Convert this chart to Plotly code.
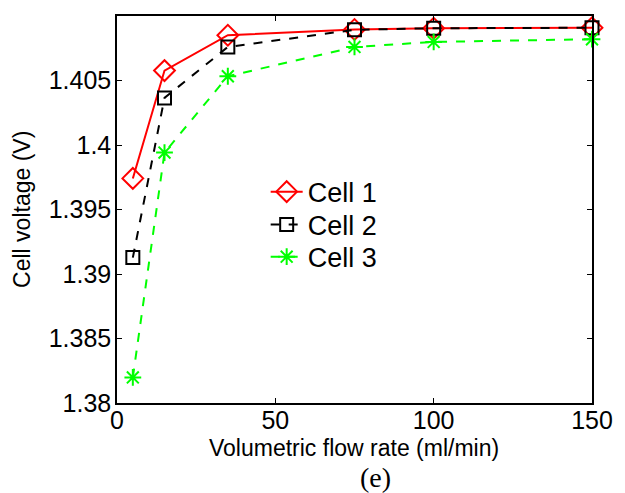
import plotly.graph_objects as go

flow = [5, 15, 35, 75, 100, 150]
cell1 = [1.39741, 1.40577, 1.40851, 1.40895, 1.40905, 1.40909]
cell2 = [1.39127, 1.40365, 1.40760, 1.40893, 1.40905, 1.40909]
cell3 = [1.38198, 1.39941, 1.40533, 1.40760, 1.40799, 1.40820]
names = ["Cell 1", "Cell 2", "Cell 3"]
xticks = [0, 50, 100, 150]
yticks = [1.38, 1.385, 1.39, 1.395, 1.4, 1.405]
yticklabels = ["1.38", "1.385", "1.39", "1.395", "1.4", "1.405"]

fig = go.Figure()
fig.add_trace(go.Scatter(x=flow, y=cell1, name=names[0], mode="lines+markers", legend="legend",
                         line=dict(color="#ff0000", width=2),
                         marker=dict(symbol="diamond-open", size=16, color="#ff0000",
                                     line=dict(width=2, color="#ff0000")),
                         cliponaxis=False))
fig.add_trace(go.Scatter(x=flow, y=cell2, name=names[1], mode="lines+markers", legend="legend2",
                         line=dict(color="#000000", width=2, dash="dash"),
                         marker=dict(symbol="square-open", size=13, color="#000000",
                                     line=dict(width=2, color="#000000")),
                         cliponaxis=False))
fig.add_trace(go.Scatter(x=flow, y=cell3, name=names[2], mode="lines+markers", legend="legend3",
                         line=dict(color="#00ff00", width=2, dash="dash"),
                         marker=dict(symbol="asterisk-open", size=14, color="#00ff00",
                                     line=dict(width=2, color="#00ff00")),
                         cliponaxis=False))

axis_common = dict(showline=True, linecolor="black", linewidth=1.5, mirror="ticks",
                   ticks="inside", ticklen=5, tickcolor="black", showgrid=False,
                   zeroline=False, tickfont=dict(family="Liberation Sans, Arial", size=25, color="black"))

fig.update_xaxes(range=[0, 150], tickvals=xticks, ticklabelstandoff=-6, **axis_common)
fig.update_yaxes(range=[1.38, 1.41], tickvals=yticks, ticktext=yticklabels,
                 ticklabelstandoff=-1, **axis_common)

title_font = dict(family="Liberation Sans, Arial", size=23, color="black")
fig.add_annotation(text="Volumetric flow rate (ml/min)", xref="paper", yref="paper",
                   x=0.498, y=-0.116, showarrow=False, xanchor="center", yanchor="middle",
                   font=title_font)
fig.add_annotation(text="Cell voltage (V)", xref="paper", yref="paper", textangle=-90,
                   x=-0.2, y=0.499, showarrow=False, xanchor="center", yanchor="middle",
                   font=title_font)
fig.add_annotation(text="(e)", xref="paper", yref="paper", x=0.545, y=-0.193,
                   showarrow=False, xanchor="center", yanchor="middle",
                   font=dict(family="Liberation Serif, Times New Roman", size=28, color="black"))

leg_font = dict(family="Liberation Sans, Arial", size=27, color="black")
leg_common = dict(x=0.313, xanchor="left", yanchor="middle", bgcolor="rgba(0,0,0,0)",
                  font=leg_font, itemwidth=32)
fig.update_layout(
    width=625, height=493,
    margin=dict(l=117, r=26, t=16, b=90),
    paper_bgcolor="white", plot_bgcolor="white",
    showlegend=True,
    legend=dict(y=0.545, **leg_common),
    legend2=dict(y=0.460, **leg_common),
    legend3=dict(y=0.377, **leg_common),
)

fig.write_html("out.html")
